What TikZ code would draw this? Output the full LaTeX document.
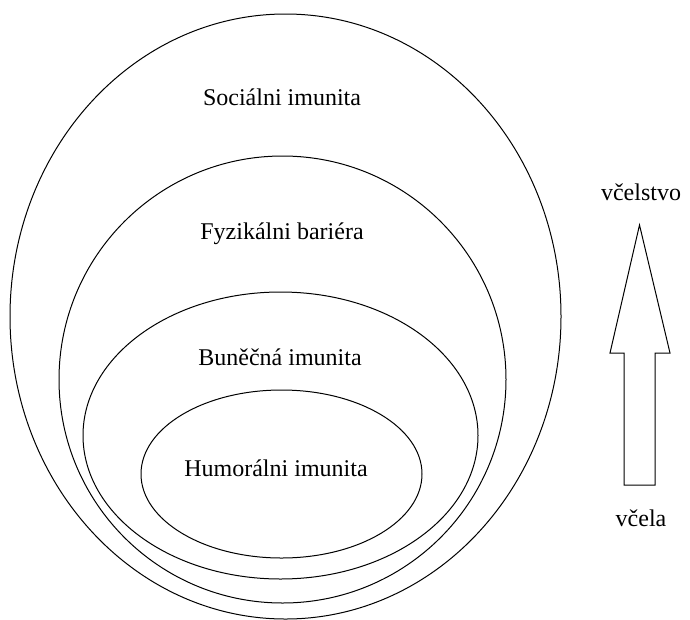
\documentclass[tikz,border=0pt]{standalone}
\usepackage{fontspec}
\setmainfont{Liberation Serif}
\begin{document}
\begin{tikzpicture}[x=1pt,y=-1pt]
            \tikzstyle{every node}+=[inner sep=0pt]
            \tikzstyle{ring}=[black, line width=1pt]
            \tikzstyle{lbl}=[font=\fontsize{24}{28}\selectfont]
            \useasboundingbox (0,0) rectangle (690,619);
            \draw [ring] (285.5,316.5) ellipse (275.5 and 302.5);
            \draw [ring] (282.5,379.5) ellipse (223.5 and 223.5);
            \draw [ring] (280.5,435.5) ellipse (197.5 and 143.5);
            \draw [ring] (281.5,474) ellipse (140.5 and 84);
            \node [lbl] (soc) at (282,97) {Sociálni imunita};
            \node [lbl] (fyz) at (282,234) {Fyzikálni bariéra};
            \node [lbl] (bun) at (280,357) {Buněčná imunita};
            \node [lbl] (hum) at (276,468) {Humorálni imunita};
            \node [lbl] (kolonie) at (641,192) {včelstvo};
            \node [lbl] (vcela) at (641,518) {včela};
            \draw [ring] (624,485) -- (655,485) -- (655,353) -- (670,353) -- (639.5,225)
                -- (610,353) -- (624,353) -- cycle;
        \end{tikzpicture}
\end{document}
